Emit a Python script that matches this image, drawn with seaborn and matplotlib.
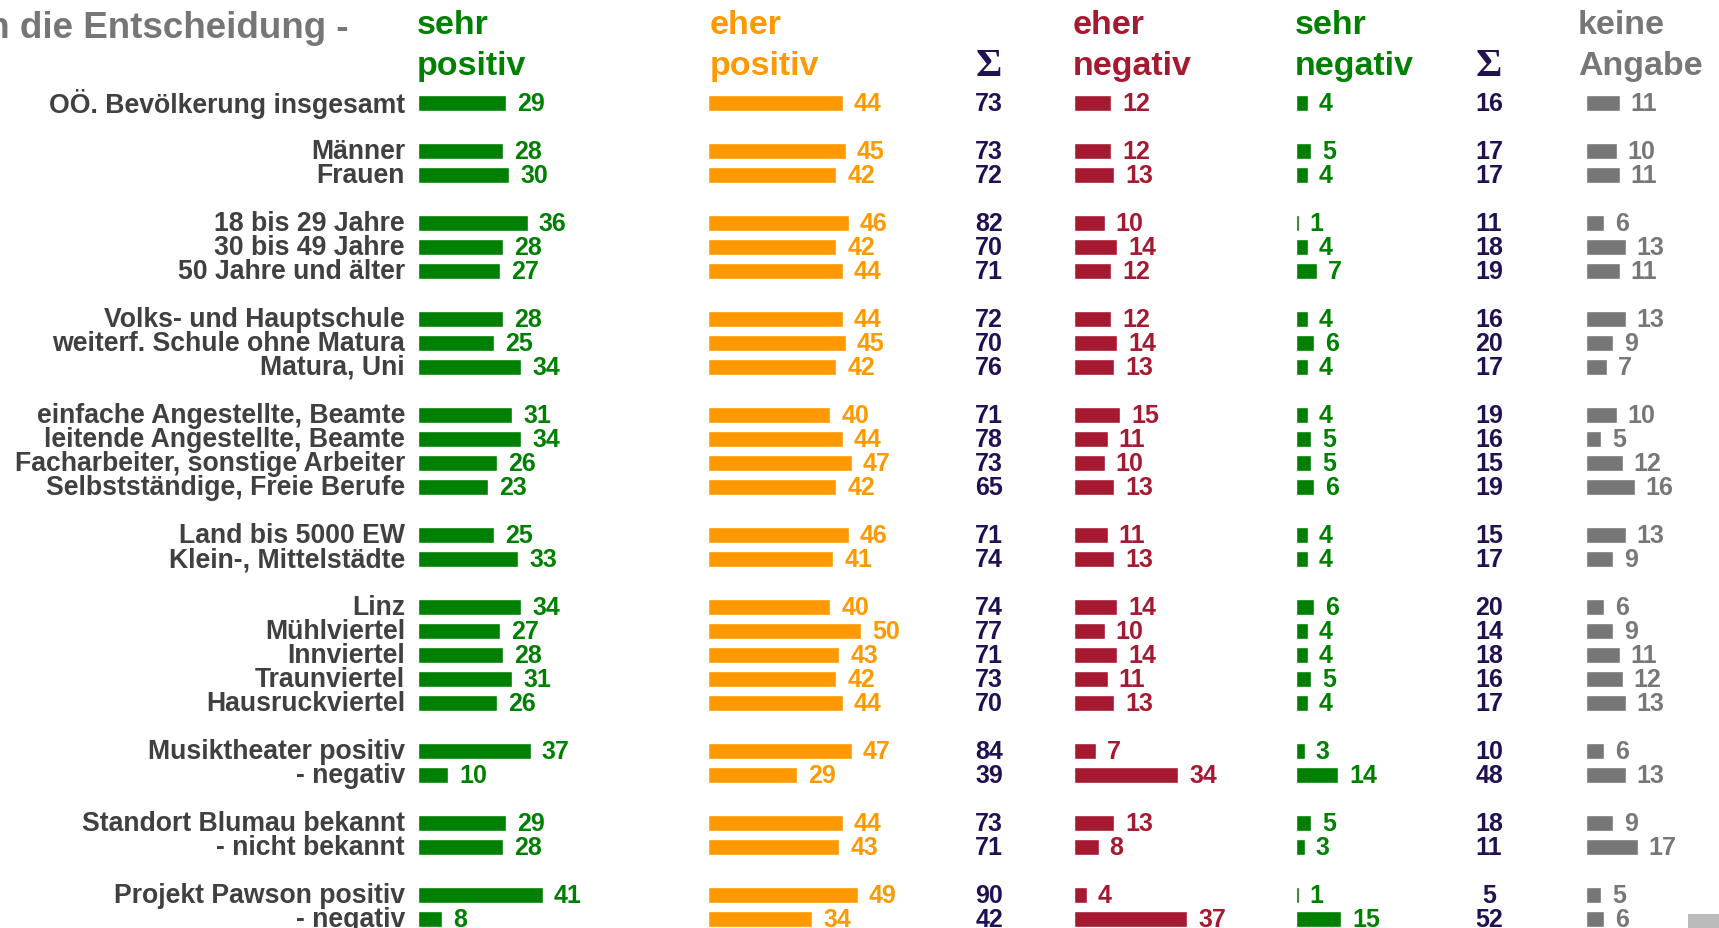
import numpy as np
import pandas as pd
import matplotlib
matplotlib.use("Agg")
import matplotlib.pyplot as plt
import seaborn as sns
from matplotlib.patches import Rectangle

# Daten
labels = ["OÖ. Bevölkerung insgesamt",
          "Männer", "Frauen",
          "18 bis 29 Jahre", "30 bis 49 Jahre", "50 Jahre und älter",
          "Volks- und Hauptschule", "weiterf. Schule ohne Matura", "Matura, Uni",
          "einfache Angestellte, Beamte", "leitende Angestellte, Beamte",
          "Facharbeiter, sonstige Arbeiter", "Selbstständige, Freie Berufe",
          "Land bis 5000 EW", "Klein-, Mittelstädte",
          "Linz", "Mühlviertel", "Innviertel", "Traunviertel", "Hausruckviertel",
          "Musiktheater positiv", "- negativ",
          "Standort Blumau bekannt", "- nicht bekannt",
          "Projekt Pawson positiv", "- negativ"]
# Zeilenposition (Leerzeile zwischen den Gruppen)
slots = [0, 2, 3, 5, 6, 7, 9, 10, 11, 13, 14, 15, 16, 18, 19,
         21, 22, 23, 24, 25, 27, 28, 30, 31, 33, 34]

sehr_positiv = [29, 28, 30, 36, 28, 27, 28, 25, 34, 31, 34, 26, 23, 25, 33,
                34, 27, 28, 31, 26, 37, 10, 29, 28, 41, 8]
eher_positiv = [44, 45, 42, 46, 42, 44, 44, 45, 42, 40, 44, 47, 42, 46, 41,
                40, 50, 43, 42, 44, 47, 29, 44, 43, 49, 34]
summe_positiv = [73, 73, 72, 82, 70, 71, 72, 70, 76, 71, 78, 73, 65, 71, 74,
                 74, 77, 71, 73, 70, 84, 39, 73, 71, 90, 42]
eher_negativ = [12, 12, 13, 10, 14, 12, 12, 14, 13, 15, 11, 10, 13, 11, 13,
                14, 10, 14, 11, 13, 7, 34, 13, 8, 4, 37]
sehr_negativ = [4, 5, 4, 1, 4, 7, 4, 6, 4, 4, 5, 5, 6, 4, 4,
                6, 4, 4, 5, 4, 3, 14, 5, 3, 1, 15]
summe_negativ = [16, 17, 17, 11, 18, 19, 16, 20, 17, 19, 16, 15, 19, 15, 17,
                 20, 14, 18, 16, 17, 10, 48, 18, 11, 5, 52]
keine_angabe = [11, 10, 11, 6, 13, 11, 13, 9, 7, 10, 5, 12, 16, 13, 9,
                6, 9, 11, 12, 13, 6, 13, 9, 17, 5, 6]

GREEN = "#008000"
ORANGE = "#FF9900"
RED = "#A51931"
GREY = "#777777"
SUM = "#221052"
LABEL = "#404040"

sns.set_style("white")
plt.rcParams["font.family"] = ["Liberation Sans", "DejaVu Sans"]

W, H = 1719, 929
fig = plt.figure(figsize=(W / 100, H / 100), dpi=100)

# Zeile 0 liegt bei 104 px von oben, 24 px pro Zeile
y0, dy = 104, 24.0
def py(p):
    return (p - y0) / dy
y_top, y_bot = py(0), py(H)

base = fig.add_axes([0, 0, 1, 1])
base.set_xlim(0, W)
base.set_ylim(y_bot, y_top)
base.axis("off")

px_unit = 3.05
columns = [
    (("sehr", "positiv"), sehr_positiv, 417.7, GREEN, 417),
    (("eher", "positiv"), eher_positiv, 708.3, ORANGE, 710),
    (("eher", "negativ"), eher_negativ, 1074.3, RED, 1073),
    (("sehr", "negativ"), sehr_negativ, 1295.7, GREEN, 1295),
    (("keine", "Angabe"), keine_angabe, 1586, GREY, 1578),
]

for head, vals, x0, col, hx in columns:
    ax = fig.add_axes([x0 / W, 0, 220 / W, 1])
    df = pd.DataFrame({"wert": vals, "pos": slots})
    sns.barplot(data=df, x="wert", y="pos", orient="h", native_scale=True,
                color=col, saturation=1, width=0.7, errorbar=None, ax=ax)
    ax.set_xlim(0, 220 / px_unit)
    ax.set_ylim(y_bot, y_top)
    ax.axis("off")
    for v, s in zip(vals, slots):
        ax.text(v + 11 / px_unit, s, str(v), color=col, fontsize=18,
                fontweight="bold", ha="left", va="center", clip_on=False)
    base.text(hx, py(26), head[0], color=col, fontsize=24.5, fontweight="bold",
              ha="left", va="center")
    base.text(hx, py(67), head[1], color=col, fontsize=24.5, fontweight="bold",
              ha="left", va="center")

# Zeilenbeschriftungen
for lab, s in zip(labels, slots):
    base.text(405, s, lab, color=LABEL, fontsize=19.2, fontweight="bold",
              ha="right", va="center")

# Summen
for xs, vals in [(989, summe_positiv), (1489, summe_negativ)]:
    for v, s in zip(vals, slots):
        base.text(xs, s, str(v), color=SUM, fontsize=18, fontweight="bold",
                  ha="center", va="center")
    base.text(xs, py(66), "Σ", color=SUM, fontsize=29, fontweight="bold",
              family=["Liberation Serif", "DejaVu Serif"], ha="center", va="center")

# Titel (links abgeschnitten)
base.text(349, py(28), "in die Entscheidung -", color="#767676", fontsize=26.5,
          fontweight="bold", ha="right", va="center")

fig.add_artist(Rectangle((1688 / W, 0), 31 / W, 14 / H, transform=fig.transFigure,
                         color="#BBBBBB", lw=0))

fig.savefig("out.png", dpi=100)
